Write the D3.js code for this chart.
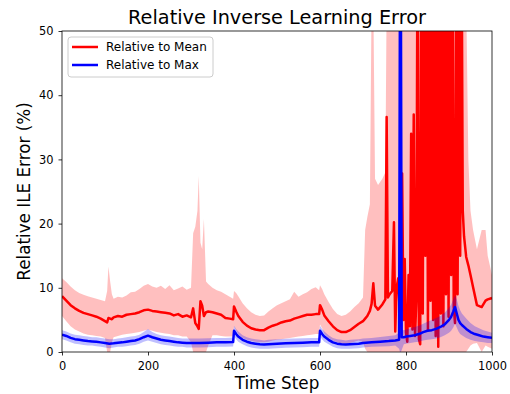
<!DOCTYPE html>
<html>
<head>
<meta charset="utf-8">
<script src="https://cdn.jsdelivr.net/npm/d3@7"></script>
<style>
  body { margin: 0; background: #fff; }
  svg { display: block; font-family: "DejaVu Sans", sans-serif; }
</style>
</head>
<body>
<div id="chart"></div>
<script>
// time steps for the "relative to mean" curve (denser where it gets noisy)
const stepsMean = [
  0, 10, 20, 30, 40, 50, 60, 70, 80, 90,
  100, 105, 108, 112, 116, 120, 130, 140, 150, 160,
  170, 180, 190, 200, 210, 220, 230, 240, 250, 260,
  270, 280, 290, 300, 305, 310, 315, 318, 322, 326,
  330, 335, 340, 350, 360, 370, 380, 390, 398, 400,
  405, 410, 420, 430, 440, 450, 460, 470, 480, 490,
  500, 510, 520, 530, 540, 550, 560, 570, 580, 590,
  598, 600, 605, 610, 620, 630, 640, 650, 660, 670,
  680, 690, 700, 705, 710, 716, 720, 724, 728, 735,
  745, 752, 755, 758, 762, 768, 772, 775, 778, 782,
  786, 791, 794, 797, 800, 803, 806, 809, 812, 815,
  818, 821, 824, 827, 830, 833, 836, 839, 842, 845,
  848, 851, 854, 857, 860, 863, 866, 869, 872, 875,
  878, 881, 884, 887, 890, 893, 896, 899, 902, 905,
  908, 911, 914, 917, 920, 923, 926, 929, 932, 935,
  940, 945, 950, 956, 965, 976, 985, 990, 1000
];
const relMean = [
  8.7, 8.0, 7.3, 6.8, 6.4, 6.1, 5.9, 5.7, 5.5, 5.2,
  4.8, 4.6, 5.3, 5.2, 5.1, 5.4, 5.6, 5.5, 5.8, 5.9,
  6.0, 6.2, 6.5, 6.6, 6.4, 6.3, 6.2, 6.1, 6.0, 5.7,
  5.9, 5.5, 5.7, 5.4, 6.8, 4.5, 4.0, 3.6, 7.9, 7.2,
  5.6, 6.2, 6.3, 6.2, 6.0, 5.8, 5.3, 5.2, 5.1, 7.1,
  6.3, 5.6, 4.7, 4.1, 3.7, 3.5, 3.4, 3.4, 3.8, 4.1,
  4.3, 4.6, 4.8, 4.9, 5.2, 5.4, 5.6, 5.8, 5.8, 5.9,
  5.9, 7.3, 6.6, 5.7, 4.8, 4.0, 3.4, 3.1, 3.1, 3.4,
  3.9, 4.4, 4.8, 5.2, 5.6, 6.4, 7.5, 10.7, 7.2, 6.6,
  7.4, 8.2, 36.6, 8.5, 9.0, 9.5, 20.2, 3.2, 10.0, 11.5,
  5.0, 27.8, 5.0, 14.5, 3.0, 1.6, 12, 4, 34, 3.5,
  37, 2.5, 8, 70, 2.0, 1.2, 70, 6, 70, 15,
  70, 3.4, 70, 8, 70, 5, 70, 2.5, 70, 0.8,
  70, 6, 70, 4, 70, 9, 70, 5.5, 70, 12,
  70, 7, 4.5, 70, 9, 70, 15, 70, 22, 18,
  14.8, 13.5, 12.0, 10.1, 7.3, 7.0, 8.0, 8.2, 8.4
];
const relMeanLo = [
  5.6, 4.8, 4.0, 3.5, 3.2, 2.9, 2.7, 2.6, 2.5, 2.4,
  2.2, 0, 0, 0, 1.5, 2.3, 2.5, 2.7, 2.8, 2.9,
  3.0, 3.1, 3.3, 3.5, 3.3, 3.1, 3.0, 2.9, 2.8, 2.6,
  2.6, 2.4, 2.4, 1.5, 0, 0, 0, 0, 0, 0,
  0, 0, 1.0, 2.6, 2.6, 2.5, 2.4, 2.4, 2.4, 4.0,
  3.4, 2.8, 2.2, 1.9, 1.7, 1.6, 1.5, 1.5, 1.6, 1.8,
  1.9, 2.0, 2.1, 2.2, 2.3, 2.4, 2.5, 2.6, 2.7, 2.8,
  2.8, 4.3, 3.7, 2.9, 2.2, 1.8, 1.5, 1.3, 1.3, 1.4,
  1.6, 1.8, 1.5, 0.5, 0, 0, 0, 0, 0, 0,
  0, 0, 0, 0, 0, 0, 0, 0, 0, 0,
  0, 0, 0, 0, 0, 0, 0, 0, 0, 0,
  0, 0, 0, 0, 0, 0, 0, 0, 0, 0,
  0, 0, 0, 0, 0, 0, 0, 0, 0, 0,
  0, 0, 0, 0, 0, 0, 0, 0, 0, 0,
  0, 0, 0, 0, 0, 0, 0, 0, 0, 0,
  0, 0.5, 1.0, 1.3, 1.4, 0, 1.0, 0.8, 0.5
];
const relMeanHi = [
  11.5, 10.9, 10.2, 9.6, 9.2, 8.9, 8.7, 8.5, 8.3, 8.1,
  7.9, 9.5, 13.3, 11.0, 9.0, 8.3, 8.6, 8.5, 8.8, 9.3,
  9.4, 9.8, 10.3, 10.6, 10.2, 10.0, 10.3, 9.8, 10.4, 9.6,
  9.9, 10.2, 9.7, 10.0, 18.5, 19.5, 22.0, 27.4, 17.0, 16.0,
  20.7, 11.0, 10.6, 10.0, 9.6, 9.4, 9.0, 8.6, 8.3, 9.5,
  9.2, 8.7, 7.6, 6.8, 6.2, 5.8, 5.6, 5.7, 6.3, 6.8,
  7.3, 7.6, 7.9, 8.2, 9.4, 8.6, 9.0, 9.3, 9.8, 10.1,
  9.6, 10.4, 9.8, 9.0, 7.8, 6.7, 5.9, 5.6, 5.8, 6.3,
  7.0, 7.6, 8.5, 19, 21, 23, 55, 55, 27, 26,
  27, 28, 55, 55, 55, 55, 55, 55, 55, 55,
  55, 55, 55, 55, 55, 55, 55, 55, 55, 55,
  55, 55, 55, 55, 55, 55, 55, 55, 55, 55,
  55, 55, 55, 55, 55, 55, 55, 55, 55, 55,
  55, 55, 55, 55, 55, 55, 55, 55, 55, 55,
  55, 55, 55, 55, 55, 55, 55, 55, 55, 55,
  55, 30, 22, 19, 16, 19, 19, 15, 12
];

// time steps for the "relative to max" curve
const stepsMax = [
  0, 10, 20, 30, 40, 50, 60, 70, 80, 90,
  100, 110, 120, 130, 140, 150, 160, 170, 180, 190,
  200, 210, 220, 230, 240, 250, 260, 270, 280, 290,
  300, 320, 340, 360, 380, 398, 400, 405, 410, 420,
  430, 440, 450, 460, 470, 480, 490, 500, 520, 540,
  560, 580, 598, 600, 605, 610, 620, 630, 640, 650,
  660, 670, 680, 690, 700, 720, 740, 760, 775, 784,
  786, 788, 790, 795, 800, 810, 820, 830, 840, 850,
  860, 870, 880, 890, 900, 905, 910, 914, 918, 922,
  926, 930, 940, 950, 960, 970, 980, 990, 1000
];
const relMax = [
  2.7, 2.5, 2.2, 2.0, 1.9, 1.8, 1.7, 1.65, 1.6, 1.5,
  1.4, 1.3, 1.35, 1.45, 1.5, 1.6, 1.7, 1.8, 2.0, 2.3,
  2.55, 2.3, 2.1, 1.9, 1.8, 1.7, 1.6, 1.5, 1.45, 1.4,
  1.4, 1.4, 1.45, 1.5, 1.5, 1.55, 3.3, 2.8, 2.4, 1.9,
  1.6, 1.4, 1.3, 1.2, 1.15, 1.2, 1.25, 1.3, 1.35, 1.4,
  1.45, 1.5, 1.5, 3.3, 2.8, 2.4, 1.9, 1.5, 1.3, 1.2,
  1.15, 1.2, 1.25, 1.3, 1.4, 1.5, 1.6, 1.7, 1.8, 1.9,
  60, 60, 2.3, 2.3, 2.4, 2.5, 2.6, 2.8, 3.1, 3.3,
  3.4, 3.6, 3.9, 4.3, 5.0, 5.5, 6.3, 7.0, 6.0, 5.0,
  4.5, 4.2, 3.6, 3.1, 2.8, 2.6, 2.4, 2.3, 2.2
];
const relMaxLo = [
  2.0, 1.8, 1.5, 1.3, 1.2, 1.1, 1.0, 1.0, 0.9, 0.8,
  0.7, 0.6, 0.7, 0.8, 0.8, 0.9, 1.0, 1.1, 1.3, 1.6,
  1.8, 1.6, 1.4, 1.2, 1.1, 1.0, 0.9, 0.8, 0.8, 0.7,
  0.7, 0.7, 0.75, 0.8, 0.8, 0.85, 2.5, 2.0, 1.6, 1.2,
  0.9, 0.7, 0.6, 0.5, 0.5, 0.5, 0.55, 0.6, 0.65, 0.7,
  0.75, 0.8, 0.8, 2.5, 2.0, 1.6, 1.2, 0.8, 0.6, 0.5,
  0.5, 0.5, 0.55, 0.6, 0.7, 0.8, 0.85, 0.9, 1.0, 0.5,
  0, 0, 0.3, 1.2, 1.3, 1.4, 1.5, 1.6, 1.8, 1.9,
  2.0, 2.1, 2.3, 2.6, 3.0, 3.3, 3.8, 4.4, 3.8, 3.2,
  2.8, 2.6, 2.2, 1.9, 1.7, 1.6, 1.5, 1.4, 1.4
];
const relMaxHi = [
  3.4, 3.2, 2.9, 2.7, 2.6, 2.5, 2.4, 2.3, 2.3, 2.2,
  2.1, 2.0, 2.0, 2.1, 2.2, 2.3, 2.4, 2.5, 2.7, 3.1,
  3.6, 3.1, 2.8, 2.6, 2.5, 2.4, 2.3, 2.2, 2.1, 2.1,
  2.1, 2.1, 2.15, 2.2, 2.2, 2.25, 4.1, 3.6, 3.2, 2.6,
  2.3, 2.1, 2.0, 1.9, 1.8, 1.9, 1.95, 2.0, 2.05, 2.1,
  2.15, 2.2, 2.2, 4.1, 3.6, 3.2, 2.6, 2.2, 2.0, 1.9,
  1.8, 1.9, 1.95, 2.0, 2.1, 2.2, 2.35, 2.5, 2.6, 3.0,
  60, 60, 3.5, 3.4, 3.5, 3.7, 3.9, 4.1, 4.4, 4.7,
  5.0, 5.3, 5.6, 6.1, 6.9, 7.4, 8.2, 8.8, 8.2, 7.2,
  6.5, 6.0, 5.2, 4.5, 4.0, 3.7, 3.4, 3.2, 3.0
];

const xTicks = [0, 200, 400, 600, 800, 1000];
const yTicks = [0, 10, 20, 30, 40, 50];
const seriesNames = ["Relative to Mean", "Relative to Max"];
const seriesColors = ["red", "blue"];

// plot box in pixels
const width = 510, height = 394;
const box = { left: 62, right: 492, top: 31, bottom: 352 };

const svg = d3
  .select("#chart")
  .append("svg")
  .attr("width", width)
  .attr("height", height);

const x = d3.scaleLinear().domain([0, 1000]).range([box.left, box.right]);
const y = d3.scaleLinear().domain([0, 50]).range([box.bottom, box.top]);

svg
  .append("defs")
  .append("clipPath")
  .attr("id", "plot-clip")
  .append("rect")
  .attr("x", box.left)
  .attr("y", box.top)
  .attr("width", box.right - box.left)
  .attr("height", box.bottom - box.top);

const plotArea = svg.append("g").attr("clip-path", "url(#plot-clip)");

// band first, then the line on top of it
function drawSeries(steps, vals, lo, hi, color) {
  const rows = steps.map((s, i) => ({ s: s, v: vals[i], lo: lo[i], hi: hi[i] }));
  plotArea
    .append("path")
    .datum(rows)
    .attr("d", d3.area().x((d) => x(d.s)).y0((d) => y(d.lo)).y1((d) => y(d.hi)))
    .attr("fill", color)
    .attr("fill-opacity", 0.25);
  plotArea
    .append("path")
    .datum(rows)
    .attr("d", d3.line().x((d) => x(d.s)).y((d) => y(d.v)))
    .attr("fill", "none")
    .attr("stroke", color)
    .attr("stroke-width", 2.5)
    .attr("stroke-linejoin", "round");
}

drawSeries(stepsMean, relMean, relMeanLo, relMeanHi, seriesColors[0]);
drawSeries(stepsMax, relMax, relMaxLo, relMaxHi, seriesColors[1]);

// axes
const xAxis = svg
  .append("g")
  .attr("transform", `translate(0, ${box.bottom})`)
  .call(
    d3.axisBottom(x)
      .tickValues(xTicks)
      .tickFormat(d3.format("d"))
      .tickSize(3.5)
      .tickPadding(6)
      .tickSizeOuter(0)
  );
const yAxis = svg
  .append("g")
  .attr("transform", `translate(${box.left}, 0)`)
  .call(
    d3.axisLeft(y)
      .tickValues(yTicks)
      .tickFormat(d3.format("d"))
      .tickSize(3.5)
      .tickPadding(5)
      .tickSizeOuter(0)
  );

[xAxis, yAxis].forEach((a) => {
  a.select(".domain").remove();
  a.selectAll(".tick line").attr("stroke", "#000").attr("stroke-width", 0.8);
  a.selectAll(".tick text")
    .attr("fill", "#000")
    .style("font-family", "DejaVu Sans")
    .style("font-size", "11.4px");
});

// frame
svg
  .append("rect")
  .attr("x", box.left)
  .attr("y", box.top)
  .attr("width", box.right - box.left)
  .attr("height", box.bottom - box.top)
  .attr("fill", "none")
  .attr("stroke", "#000")
  .attr("stroke-width", 0.8);

// title and labels
svg
  .append("text")
  .attr("x", (box.left + box.right) / 2)
  .attr("y", 24)
  .attr("text-anchor", "middle")
  .style("font-size", "19.3px")
  .text("Relative Inverse Learning Error");

svg
  .append("text")
  .attr("x", (box.left + box.right) / 2)
  .attr("y", 389)
  .attr("text-anchor", "middle")
  .style("font-size", "16.8px")
  .text("Time Step");

svg
  .append("text")
  .attr("transform", `translate(30, ${(box.top + box.bottom) / 2}) rotate(-90)`)
  .attr("text-anchor", "middle")
  .style("font-size", "16.8px")
  .text("Relative ILE Error (%)");

// legend
const legend = svg.append("g");
legend
  .append("rect")
  .attr("x", 68)
  .attr("y", 37)
  .attr("width", 145)
  .attr("height", 40)
  .attr("rx", 3)
  .attr("fill", "#fff")
  .attr("fill-opacity", 0.8)
  .attr("stroke", "#ccc")
  .attr("stroke-width", 1);

seriesNames.forEach((name, i) => {
  const ly = 47 + i * 18;
  legend
    .append("line")
    .attr("x1", 72)
    .attr("x2", 98)
    .attr("y1", ly)
    .attr("y2", ly)
    .attr("stroke", seriesColors[i])
    .attr("stroke-width", 2.5);
  legend
    .append("text")
    .attr("x", 106)
    .attr("y", ly + 4.4)
    .style("font-size", "12px")
    .text(name);
});
</script>
</body>
</html>
